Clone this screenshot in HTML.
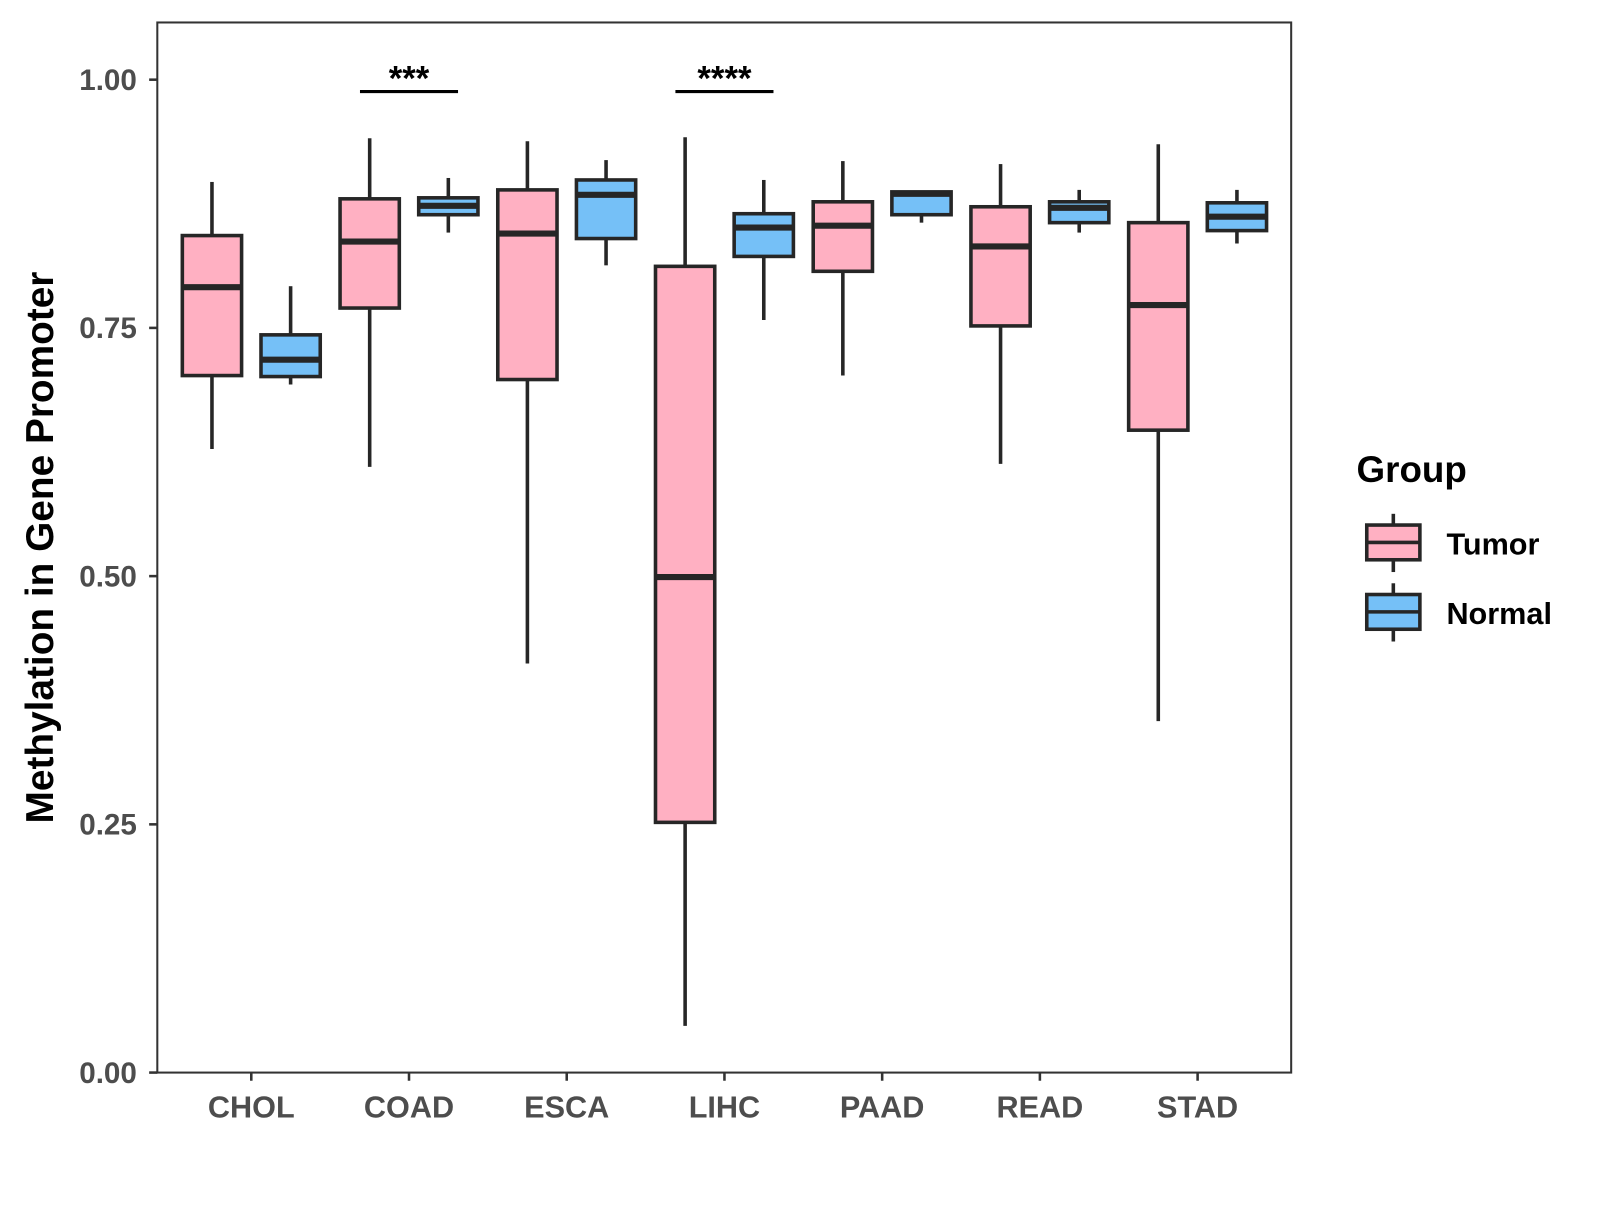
<!DOCTYPE html>
<html><head><meta charset="utf-8"><style>
html,body{margin:0;padding:0;background:#fff;}
svg text{font-family:"Liberation Sans",Arial,sans-serif;font-weight:bold;}
</style></head><body>
<svg id="chart" width="1600" height="1200" viewBox="0 0 1600 1200" xmlns="http://www.w3.org/2000/svg">
<g transform="scale(1.0215)">
<rect x="154" y="22" width="1110" height="1028" fill="#fff" stroke="#333" stroke-width="2"/>
<g id="axes"></g>
<g id="boxes"></g>
<g id="sig"></g>
<text transform="translate(52,536) rotate(-90)" text-anchor="middle" font-size="38" fill="#000">Methylation in Gene Promoter</text>
<g>
<text x="1328" y="472" font-size="36" fill="#000">Group</text>
<g>
<line x1="1364" y1="503" x2="1364" y2="514" stroke="#262626" stroke-width="3.5"/>
<line x1="1364" y1="548" x2="1364" y2="560" stroke="#262626" stroke-width="3.5"/>
<rect x="1338" y="514" width="52" height="34" fill="#FFB0C2" stroke="#262626" stroke-width="3.5"/>
<line x1="1338" y1="531" x2="1390" y2="531" stroke="#262626" stroke-width="3.5"/>
<text x="1416" y="543" font-size="30" fill="#000">Tumor</text></g>
<g>
<line x1="1364" y1="571" x2="1364" y2="582" stroke="#262626" stroke-width="3.5"/>
<line x1="1364" y1="616" x2="1364" y2="628" stroke="#262626" stroke-width="3.5"/>
<rect x="1338" y="582" width="52" height="34" fill="#75C0F7" stroke="#262626" stroke-width="3.5"/>
<line x1="1338" y1="599" x2="1390" y2="599" stroke="#262626" stroke-width="3.5"/>
<text x="1416" y="611" font-size="30" fill="#000">Normal</text></g>
</g>
</g>
</svg>
<script>
const categories=["CHOL","COAD","ESCA","LIHC","PAAD","READ","STAD"];
const yTicks=[0,0.25,0.5,0.75,1];
const yTickLabels=["0.00","0.25","0.50","0.75","1.00"];
// [low, q1, median, q3, high]
const tumorStats=[[0.628,0.702,0.791,0.843,0.897],[0.610,0.770,0.837,0.880,0.941],[0.412,0.698,0.845,0.889,0.938],[0.047,0.252,0.499,0.812,0.942],[0.702,0.807,0.853,0.877,0.918],[0.613,0.752,0.832,0.872,0.915],[0.354,0.647,0.773,0.856,0.935]];
const normalStats=[[0.693,0.701,0.718,0.743,0.792],[0.846,0.864,0.873,0.881,0.901],[0.813,0.840,0.884,0.899,0.919],[0.758,0.822,0.851,0.865,0.899],[0.856,0.864,0.885,0.887,0.887],[0.846,0.856,0.871,0.877,0.889],[0.835,0.848,0.862,0.876,0.889]];
const sigCats=["COAD","LIHC"];
const sigLabels=["***","****"];
const sigLevel=[0.988,0.988];

const NS="http://www.w3.org/2000/svg";
const y=v=>1050-v*972;
const x=i=>246+i*154.4;
function mk(tag,attrs,parent){const e=document.createElementNS(NS,tag);for(const k in attrs)e.setAttribute(k,attrs[k]);parent.appendChild(e);return e;}
const axes=document.getElementById('axes');
yTicks.forEach((t,i)=>{
  const l=mk('line',{x1:146,x2:154,y1:y(t),y2:y(t),stroke:'#333','stroke-width':2.5},axes);
  
  
  const tx=mk('text',{x:134,y:y(t)+10,'text-anchor':'end','font-size':29,fill:'#4d4d4d'},axes);
  tx.textContent=yTickLabels[i];
  
  
});
categories.forEach((c,i)=>{
  const l=mk('line',{x1:x(i),x2:x(i),y1:1050,y2:1058,stroke:'#333','stroke-width':2.5},axes);
  
  
  const tx=mk('text',{x:x(i),y:1094,'text-anchor':'middle','font-size':30,fill:'#4d4d4d'},axes);
  tx.textContent=c;
  
  
});
const boxes=document.getElementById('boxes');
function drawBox(cx,s,fill,name){
  const g=mk('g',{},boxes);
  
  
  const st={stroke:'#262626','stroke-width':3.5};
  mk('line',Object.assign({x1:cx,x2:cx,y1:y(s[4]),y2:y(s[3])},st),g);
  mk('line',Object.assign({x1:cx,x2:cx,y1:y(s[1]),y2:y(s[0])},st),g);
  mk('rect',Object.assign({x:cx-29,y:y(s[3]),width:58,height:Math.max(0,y(s[1])-y(s[3])),fill:fill},st),g);
  mk('line',{x1:cx-29,x2:cx+29,y1:y(s[2]),y2:y(s[2]),stroke:'#262626','stroke-width':6},g);
}
categories.forEach((c,i)=>{
  drawBox(x(i)-38.5,tumorStats[i],'#FFB0C2','box-tumor-'+c.toLowerCase());
  drawBox(x(i)+38.5,normalStats[i],'#75C0F7','box-normal-'+c.toLowerCase());
});
const sig=document.getElementById('sig');
sigCats.forEach((c,k)=>{
  const i=categories.indexOf(c);
  const l=mk('line',{x1:x(i)-48,x2:x(i)+48,y1:y(sigLevel[k]),y2:y(sigLevel[k]),stroke:'#000','stroke-width':3},sig);
  
  
  const t=mk('text',{x:x(i),y:y(sigLevel[k])-1,'text-anchor':'middle','font-size':34,fill:'#000'},sig);
  t.textContent=sigLabels[k];
  
  
});
</script>
</body></html>
